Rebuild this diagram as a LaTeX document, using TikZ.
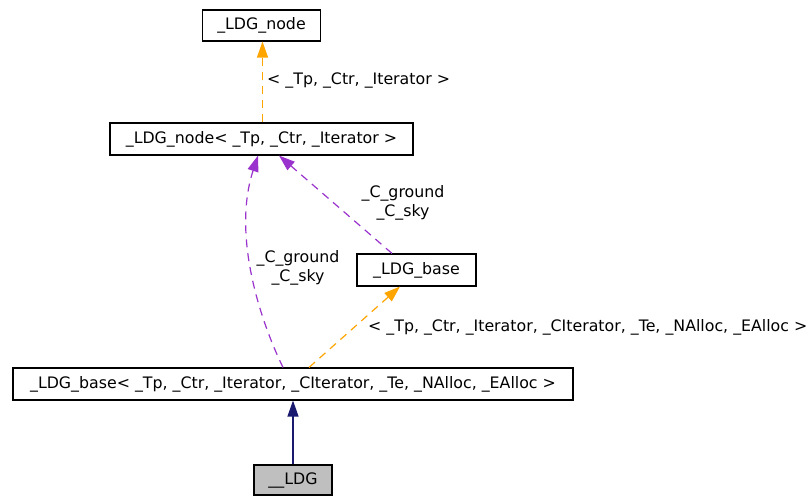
\documentclass[tikz,border=0pt]{standalone}
\usepackage{fontspec}
\setmainfont{DejaVu Sans}
\usetikzlibrary{arrows.meta}
\definecolor{edgeorange}{HTML}{FFA500}
\definecolor{edgepurple}{HTML}{9A32CD}
\definecolor{edgenavy}{HTML}{191970}
\definecolor{boxgray}{HTML}{BFBFBF}
\begin{document}
\begin{tikzpicture}[x=1pt,y=-1pt,
  every node/.style={font=\fontsize{15.8}{19}\selectfont},
  cls/.style={draw=black,line width=1.1pt,inner sep=0pt,minimum height=31pt,fill=white},
  rel/.style={line width=1.2pt,dash pattern=on 8pt off 6pt,-{Triangle[length=16pt,width=11pt]}},
  inherit/.style={line width=1.2pt,-{Triangle[length=16pt,width=11pt]}},
  lbl/.style={inner sep=0pt,align=center},
]
\useasboundingbox (0,0) rectangle (810,495);

% classes
\node[cls,minimum width=118pt] (node) at (261.5,25.5) {\_LDG\_node};
\node[cls,minimum width=303pt,minimum height=32pt] (nodeT) at (261.5,139) {\_LDG\_node< \_Tp, \_Ctr, \_Iterator >};
\node[cls,minimum width=119pt,minimum height=32pt] (base) at (416.5,270) {\_LDG\_base};
\node[cls,minimum width=560pt,minimum height=32pt] (baseT) at (293,384) {\_LDG\_base< \_Tp, \_Ctr, \_Iterator, \_CIterator, \_Te, \_NAlloc, \_EAlloc >};
\node[cls,fill=boxgray,minimum width=78pt,minimum height=30pt] (ldg) at (293,480) {\_\_LDG};

% template instantiation of _LDG_node
\draw[rel,color=edgeorange] ([xshift=1pt]nodeT.north) -- ([xshift=1pt]node.south);
\node[lbl,anchor=west] (l1) at (267,80) {< \_Tp, \_Ctr, \_Iterator >};

% usage: _LDG_base -> _LDG_node<...>
\draw[rel,color=edgepurple] ([xshift=-24.5pt]base.north) -- ([xshift=17.5pt]nodeT.south);
\node[lbl] (l2) at (403,202.5) {\_C\_ground\\\_C\_sky};

% usage: _LDG_base<...> -> _LDG_node<...>
\draw[rel,color=edgepurple] ([xshift=-10pt]baseT.north) .. controls (260,320) and (232,235) .. ([xshift=-3.5pt]nodeT.south);
\node[lbl] (l3) at (298,268) {\_C\_ground\\\_C\_sky};

% template instantiation of _LDG_base
\draw[rel,color=edgeorange] ([xshift=16pt]baseT.north) -- ([xshift=-16.5pt]base.south);
\node[lbl,anchor=west] (l4) at (368,327) {< \_Tp, \_Ctr, \_Iterator, \_CIterator, \_Te, \_NAlloc, \_EAlloc >};

% inheritance
\draw[inherit,color=edgenavy] (ldg.north) -- (baseT.south);
\end{tikzpicture}
\end{document}
